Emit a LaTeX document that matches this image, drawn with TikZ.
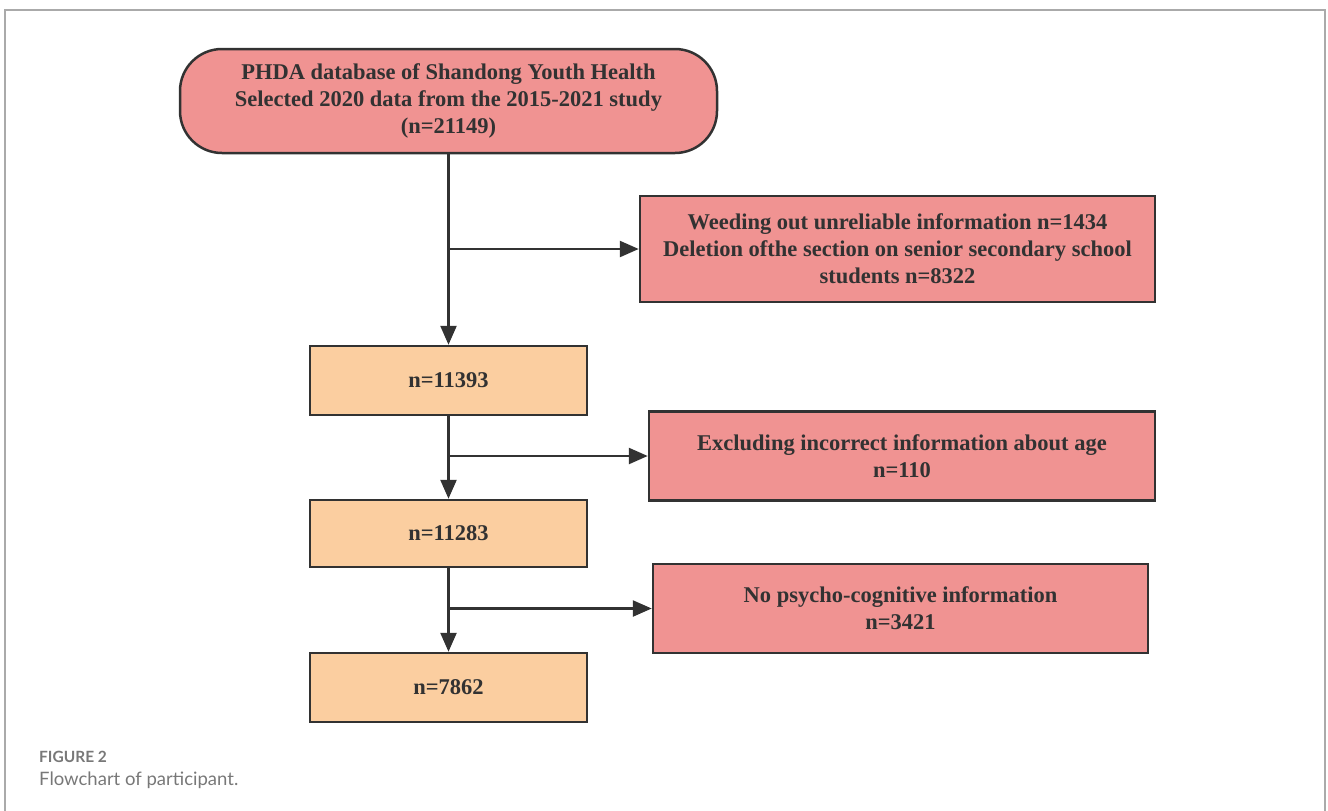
\documentclass[tikz,border=0pt]{standalone}
\usepackage{fontspec}
\setmainfont{Liberation Serif}
\newfontfamily\capfont{Lato}
\usepackage{xcolor}
\usetikzlibrary{calc}
\usetikzlibrary{arrows.meta}

\definecolor{exclpink}{RGB}{240,147,146}
\definecolor{keeppeach}{RGB}{251,206,160}
\definecolor{edgegray}{RGB}{50,50,50}
\definecolor{framegray}{RGB}{170,170,170}
\definecolor{capgray}{RGB}{120,120,120}

\tikzset{
  box/.style={draw=edgegray, line width=2.5pt, align=center, inner sep=0pt,
    font=\fontsize{22.5}{27}\selectfont\bfseries, text=edgegray},
  startbox/.style={box, fill=exclpink, rounded corners=42pt},
  exclbox/.style={box, fill=exclpink},
  keepbox/.style={box, fill=keeppeach},
  flow/.style={draw=edgegray, line width=2.5pt, -{Triangle[length=19pt,width=16pt]}},
}

\begin{document}
\begin{tikzpicture}[x=1pt,y=-1pt]
    % ukuran gambar dan bingkai
    \useasboundingbox (0,0) rectangle (1328,811);
    \draw[framegray, line width=2pt] (5,811) -- (5,10) -- (1325,10) -- (1325,811);

    % kotak-kotak alur
    \node[startbox, minimum width=537pt, minimum height=104pt] (src) at (448.5,101)
      {PHDA database of Shandong Youth Health\\Selected 2020 data from the 2015-2021 study\\(n=21149)};
    \node[exclbox, minimum width=515pt, minimum height=106pt] (exA) at (897.5,249)
      {Weeding out unreliable information n=1434\\Deletion ofthe section on senior secondary school\\students n=8322};
    \node[keepbox, minimum width=277pt, minimum height=69pt] (o1) at (448.5,380.5) {n=11393};
    \node[exclbox, minimum width=506pt, minimum height=89pt] (exB) at (902,456)
      {Excluding incorrect information about age\\n=110};
    \node[keepbox, minimum width=277pt, minimum height=67pt] (o2) at (448.5,533.5) {n=11283};
    \node[exclbox, minimum width=495pt, minimum height=89pt] (exC) at (900.5,608.5)
      {No psycho-cognitive information\\n=3421};
    \node[keepbox, minimum width=277pt, minimum height=69pt] (o3) at (448.5,687.5) {n=7862};

    % panah turun
    \draw[flow] (src.south) -- (o1.north);
    \draw[flow] (o1.south) -- (o2.north);
    \draw[flow] (o2.south) -- (o3.north);

    % panah ke samping
    \draw[flow] (src.south |- exA.west) -- (exA.west);
    \draw[flow] (o1.south |- exB.west) -- (exB.west);
    \draw[flow] (o2.south |- exC.west) -- (exC.west);

    % keterangan gambar
    \node[anchor=west, inner sep=0pt, text=capgray, font=\capfont\bfseries\fontsize{15.5}{18}\selectfont] (fig) at (39,757) {FIGURE 2};
    \node[anchor=west, inner sep=0pt, text=capgray, font=\capfont\fontsize{18.5}{22}\selectfont] (cap) at (39,780) {Flowchart of participant.};
\end{tikzpicture}
\end{document}
